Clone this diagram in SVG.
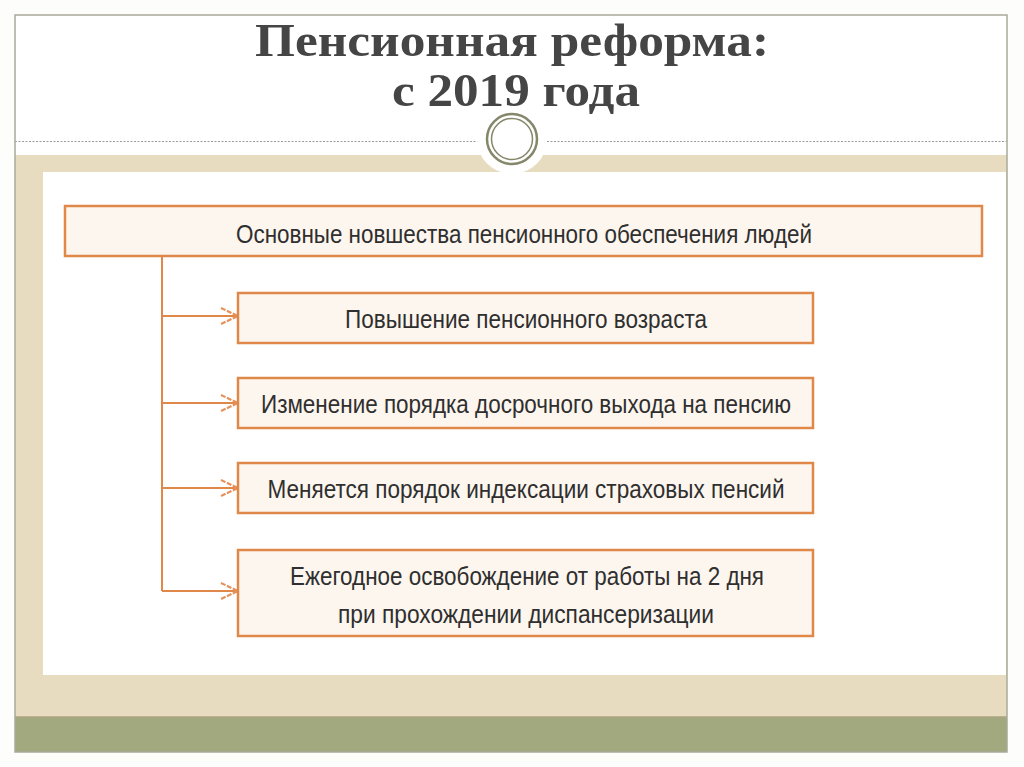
<svg xmlns="http://www.w3.org/2000/svg" width="1024" height="767" viewBox="0 0 1024 767">
<defs>
<style>
.box{fill:#fdf6ee;stroke:#e0874a;stroke-width:2.5}
.lbl{font-family:"Liberation Sans Narrow","Liberation Sans",Arial,sans-serif;font-size:26px;fill:#2f2f2f;text-anchor:middle}
.ttl{font-family:"Liberation Serif","Times New Roman",serif;font-weight:bold;font-size:46px;fill:#454545;text-anchor:middle}
.con{fill:none;stroke:#e0874a;stroke-width:2}
</style>
<marker id="chev" viewBox="0 0 20 20" refX="18" refY="10" markerWidth="20" markerHeight="20" markerUnits="userSpaceOnUse" orient="auto">
<polyline points="1,2 18,10 1,18" fill="none" stroke="#e5915a" stroke-width="2.2" stroke-dasharray="5,1.5"/>
</marker>
</defs>
<rect x="0" y="0" width="1024" height="767" fill="#fdfdfb"/>
<rect x="15" y="15" width="992" height="737" fill="#ffffff"/>
<rect x="15" y="155" width="992" height="562" fill="#e7dcc0"/>
<rect x="43" y="172" width="963" height="503" fill="#ffffff"/>
<rect x="15" y="717" width="992" height="35" fill="#a2a97e"/>
<line x1="15" y1="717" x2="1007" y2="717" stroke="#aaa482" stroke-width="1.5"/>
<line x1="15" y1="141.5" x2="1007" y2="141.5" stroke="#9a9a9a" stroke-width="1" stroke-dasharray="2,1.5"/>
<rect x="15" y="15" width="992" height="737" fill="none" stroke="#a9a99a" stroke-width="1.5"/>
<g id="ornament">
<circle cx="512" cy="139" r="35" fill="#ffffff"/>
<circle cx="512" cy="139" r="25" fill="none" stroke="#85876a" stroke-width="2.5"/>
<circle cx="512" cy="139" r="20.5" fill="none" stroke="#85876a" stroke-width="1.5"/>
</g>
<g id="title">
<text class="ttl" x="512" y="56" textLength="514" lengthAdjust="spacingAndGlyphs">Пенсионная реформа:</text>
<text class="ttl" x="516" y="106" textLength="248" lengthAdjust="spacingAndGlyphs">с 2019 года</text>
</g>
<g id="connectors">
<polyline class="con" points="162,257 162,591"/>
<line class="con" x1="162" y1="316" x2="238" y2="316" marker-end="url(#chev)"/>
<line class="con" x1="162" y1="403" x2="238" y2="403" marker-end="url(#chev)"/>
<line class="con" x1="162" y1="488" x2="238" y2="488" marker-end="url(#chev)"/>
<line class="con" x1="162" y1="591" x2="238" y2="591" marker-end="url(#chev)"/>
</g>
<g id="node-main">
<rect class="box" x="65" y="206" width="917" height="50"/>
<text class="lbl" x="524" y="243" textLength="576" lengthAdjust="spacingAndGlyphs">Основные новшества пенсионного обеспечения людей</text>
</g>
<g id="node-1">
<rect class="box" x="238" y="293" width="575" height="50"/>
<text class="lbl" x="526" y="328" textLength="362" lengthAdjust="spacingAndGlyphs">Повышение пенсионного возраста</text>
</g>
<g id="node-2">
<rect class="box" x="238" y="378" width="575" height="50"/>
<text class="lbl" x="526" y="413" textLength="530" lengthAdjust="spacingAndGlyphs">Изменение порядка досрочного выхода на пенсию</text>
</g>
<g id="node-3">
<rect class="box" x="238" y="463" width="575" height="50"/>
<text class="lbl" x="526" y="498" textLength="517" lengthAdjust="spacingAndGlyphs">Меняется порядок индексации страховых пенсий</text>
</g>
<g id="node-4">
<rect class="box" x="238" y="550" width="575" height="86"/>
<text class="lbl" x="527" y="585" textLength="474" lengthAdjust="spacingAndGlyphs">Ежегодное освобождение от работы на 2 дня</text>
<text class="lbl" x="526" y="623" textLength="376" lengthAdjust="spacingAndGlyphs">при прохождении диспансеризации</text>
</g>
</svg>
